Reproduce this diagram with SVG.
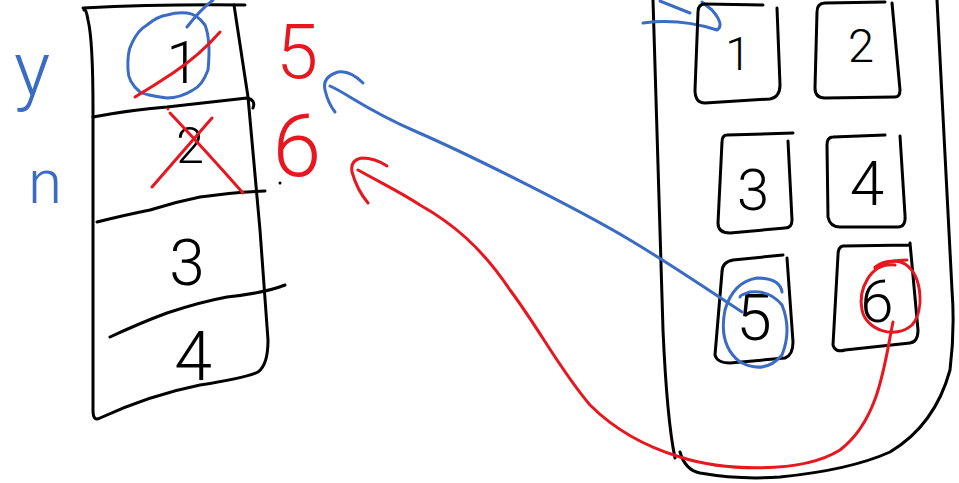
<svg xmlns="http://www.w3.org/2000/svg" width="959" height="483" viewBox="0 0 959 483">
<style>
.k{fill:none;stroke:#000;stroke-width:3;stroke-linecap:round;stroke-linejoin:round}
.b{fill:none;stroke:#3b6cc4;stroke-width:3;stroke-linecap:round;stroke-linejoin:round}
.r{fill:none;stroke:#e8161e;stroke-width:3;stroke-linecap:round;stroke-linejoin:round}
.t{font-family:Roboto,"Liberation Sans",Arial,sans-serif;font-weight:300;text-anchor:middle}
.tk{fill:#000}.tb{fill:#3b6cc4}.tr{fill:#e8161e}
</style>
<rect width="959" height="483" fill="#fff"/>
<g id="list">
<path class="k" d="M83,8 Q160,4 245,5"/>
<path class="k" d="M84,10 Q86,8 88,20 Q93,40 93,110 L93,410 Q93,422 100,418 Q150,395 200,385 Q245,378 258,372 Q268,365 268,340 L260,230 L248,97 L234,5"/>
<path class="k" d="M93,117 Q130,110 167,107 Q210,102 247,98 Q256,100 253,108"/>
<path class="k" d="M97,222 Q125,215 150,210 Q175,202 200,197 Q235,192 265,191"/>
<path class="k" d="M110,337 Q140,323 167,313 Q200,302 227,297 Q265,293 285,285"/>
<text class="t tk" x="183" y="83" font-size="60">1</text>
<text class="t tk" x="190" y="163" font-size="50">2</text>
<text class="t tk" x="187" y="285" font-size="64">3</text>
<text class="t tk" x="193" y="380" font-size="68">4</text>
</g>
<g id="marks-left">
<path class="b" d="M213,0 Q200,10 187,27"/>
<path class="b" d="M187,13 Q197,14 205,25 Q211,40 208,70 Q202,86 193,90 Q180,98 167,98 Q145,95 140,92 Q128,82 128,70 Q127,52 132,43 Q138,30 147,25 Q158,16 167,15 Q177,12 187,13"/>
<path class="r" d="M135,97 Q155,85 173,73 Q200,55 220,32"/>
<path class="r" d="M170,113 Q205,150 243,193"/>
<path class="r" d="M152,187 Q180,155 212,118"/>
<circle cx="168" cy="109" r="1.5" fill="#e8161e"/>
<circle cx="280" cy="183" r="1.5" fill="#000"/>
<text class="t tb" x="32" y="95" font-size="76">y</text>
<text class="t tb" x="45" y="203" font-size="62">n</text>
<text class="t tr" x="297" y="78" font-size="76">5</text>
<text class="t tr" x="297" y="176" font-size="88">6</text>
</g>
<g id="phone">
<path class="k" d="M653,0 Q657,150 663,330 Q667,420 675,458"/>
<path class="k" d="M680,452 Q685,470 700,473 Q740,480 780,477 Q850,470 890,452 Q935,425 950,370 Q955,330 952,290 L937,0"/>
<path class="b" d="M643,23 Q680,18 717,30 Q725,25 712,10 L702,2"/>
<path class="b" d="M690,13 Q670,5 660,1"/>
</g>
<g id="btn1"><path class="k" d="M763,5 L705,4 Q698,4 698,12 L695,90 Q695,103 705,103 L770,99 Q780,97 780,85 L777,8"/><text class="t tk" x="738" y="70" font-size="46">1</text></g>
<g id="btn2"><path class="k" d="M885,2 L825,3 Q817,3 817,12 L815,88 Q815,98 825,98 L895,97 Q900,97 900,90 L892,3"/><text class="t tk" x="861" y="62" font-size="47">2</text></g>
<g id="btn3"><path class="k" d="M793,133 L727,135 Q722,135 722,142 L718,223 Q718,233 730,233 L785,228 Q792,228 792,220 L788,141"/><text class="t tk" x="753" y="210" font-size="58">3</text></g>
<g id="btn4"><path class="k" d="M885,135 L833,137 Q827,137 827,145 L828,217 Q830,227 840,227 L898,227 Q906,227 905,215 L900,136"/><text class="t tk" x="867" y="205" font-size="62">4</text></g>
<g id="btn5"><path class="k" d="M783,255 L733,260 Q722,262 722,272 L715,355 Q717,363 730,363 L785,358 Q793,355 793,342 L787,258"/><text class="t tk" x="754" y="340" font-size="64">5</text></g>
<g id="btn6"><path class="k" d="M910,245 L843,246 Q838,247 838,255 L833,345 Q835,353 845,350 L910,343 Q918,342 918,330 L910,243"/><text class="t tk" x="877" y="322" font-size="60">6</text></g>
<g id="connectors">
<path class="b" d="M782,292 Q780,278 757,278 Q733,282 725,310 Q718,345 740,362 Q765,375 782,355 Q792,330 782,305 Q770,290 750,292 Q740,295 740,297"/>
<path class="b" d="M742,312 C700,285 680,270 630,240 S470,155 417,132 S350,95 330,86"/>
<path class="b" d="M363,83 Q350,70 338,72 Q322,77 325,90 Q328,103 335,112"/>
<path class="r" d="M875,267 Q890,260 907,260"/>
<path class="r" d="M895,265 C870,262 858,290 862,310 C866,330 895,340 912,325 C925,310 922,275 905,264 C895,258 880,262 875,268"/>
<path class="r" d="M893,322 C885,360 880,420 840,450 C800,475 720,470 680,457 C640,445 610,425 590,405 C560,370 540,330 510,290 C480,245 450,222 420,205 C400,192 385,185 358,170"/>
<path class="r" d="M387,166 Q375,158 362,158 Q350,160 352,172 Q357,190 368,203"/>
</g>
</svg>
